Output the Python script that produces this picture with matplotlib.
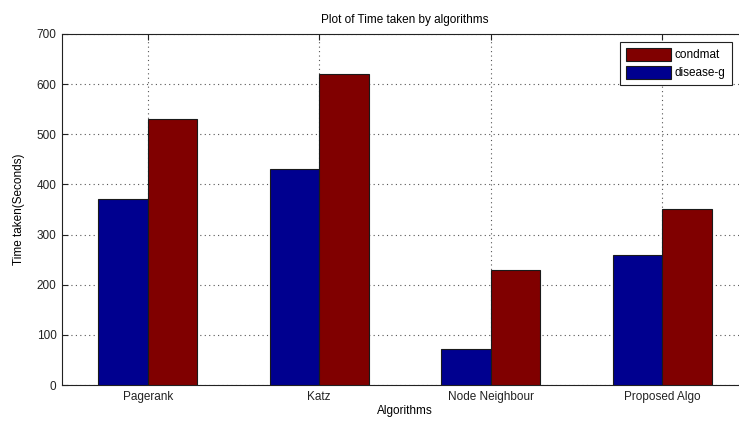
import matplotlib
matplotlib.use("Agg")
import matplotlib.pyplot as plt
import numpy as np

# Running time per algorithm on the two datasets
algorithms = ["Pagerank", "Katz", "Node Neighbour", "Proposed Algo"]
disease_g = [370, 430, 72, 260]
condmat = [530, 620, 230, 350]
y_ticks = [0, 100, 200, 300, 400, 500, 600, 700]

plt.rcParams["font.family"] = ["Liberation Sans", "DejaVu Sans"]

fig = plt.figure(figsize=(7.39, 4.23), dpi=100)
ax = fig.add_axes([62 / 739, 1 - 385 / 423, 686 / 739, 351 / 423])

x = np.arange(1, len(algorithms) + 1)
w = 0.29
blue = "#00008F"
red = "#800000"
ax.bar(x - w / 2, disease_g, width=w, color=blue, edgecolor="#1a1a1a",
       linewidth=0.8, label="disease-g", zorder=3)
ax.bar(x + w / 2, condmat, width=w, color=red, edgecolor="#1a1a1a",
       linewidth=0.8, label="condmat", zorder=3)

fs = 8.5
ax.set_xlim(0.5, 4.5)
ax.set_ylim(0, 700)
ax.set_xticks(x)
ax.set_xticklabels(algorithms, fontsize=fs)
ax.set_yticks(y_ticks)
ax.set_yticklabels([str(v) for v in y_ticks], fontsize=fs)
ax.tick_params(direction="in", length=4, width=0.8, colors="#222222",
               top=True, right=True, pad=4)
ax.grid(True, linestyle=(0, (1, 3)), color="#555555", linewidth=0.8, zorder=0)
for s in ax.spines.values():
    s.set_color("#222222")
    s.set_linewidth(0.8)

ax.set_title("Plot of Time taken by algorithms", fontsize=fs, pad=8)
ax.set_xlabel("Algorithms", fontsize=fs, labelpad=2)
ax.set_ylabel("Time taken(Seconds)", fontsize=fs, labelpad=8)

handles, labels = ax.get_legend_handles_labels()
leg = fig.legend(handles[::-1], labels[::-1], loc="upper left",
                 bbox_to_anchor=(620 / 739, 1 - 42 / 423), fontsize=fs,
                 handlelength=3.8, handleheight=1.3, handletextpad=0.35,
                 borderpad=0.5, labelspacing=0.4, fancybox=False,
                 framealpha=1, edgecolor="#222222", borderaxespad=0)
leg.get_frame().set_linewidth(0.8)

fig.savefig("out.png", dpi=100)
